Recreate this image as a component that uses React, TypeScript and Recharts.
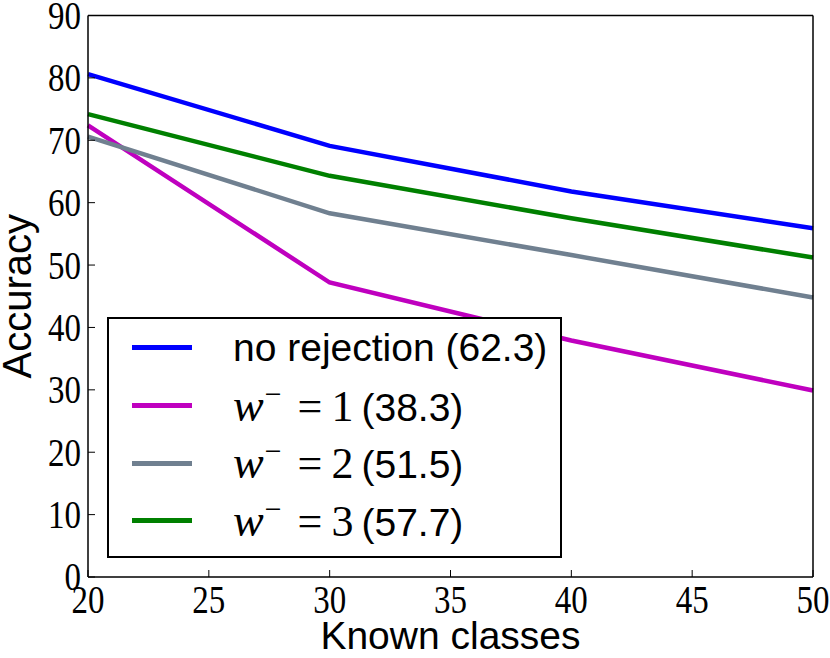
import React from 'react';
import { LineChart, Line, XAxis, YAxis, Legend } from 'recharts';

const knownClasses = [20, 30, 40, 50];
const noRejection = [80.6, 69.1, 61.8, 55.9];
const wMinus1 = [72.4, 47.2, 37.9, 29.9];
const wMinus2 = [70.6, 58.3, 51.6, 44.8];
const wMinus3 = [74.2, 64.3, 57.5, 51.2];

const xTicks = [20, 25, 30, 35, 40, 45, 50];
const yTicks = [0, 10, 20, 30, 40, 50, 60, 70, 80, 90];

const seriesKeys = ['noRej', 'w1', 'w2', 'w3'];
const seriesColors = ['#0000ff', '#bf00bf', '#708090', '#008000'];
const seriesMath = [null, '1', '2', '3'];
const seriesScores = ['62.3', '38.3', '51.5', '57.7'];

const data = knownClasses.map((k, i) => ({
  k,
  noRej: noRejection[i],
  w1: wMinus1[i],
  w2: wMinus2[i],
  w3: wMinus3[i],
}));

const SANS = '"Liberation Sans", Arial, Helvetica, sans-serif';
const SERIF = '"Liberation Serif", "DejaVu Serif", serif';

const XTick = (props: any) => {
  const { x, y, payload } = props;
  return (
    <text
      x={0}
      y={0}
      transform={`translate(${x}, ${y}) scale(1, 1.2)`}
      textAnchor="middle"
      fontFamily={SERIF}
      fontSize={33}
      fill="#000"
      dy="0.70em"
    >
      {payload.value}
    </text>
  );
};

const YTick = (props: any) => {
  const { x, y, payload } = props;
  return (
    <text
      x={0}
      y={0}
      transform={`translate(${x}, ${y}) scale(1, 1.2)`}
      textAnchor="end"
      fontFamily={SERIF}
      fontSize={33}
      fill="#000"
      dy="0.34em"
    >
      {payload.value}
    </text>
  );
};

const LegendBox = () => (
  <div
    style={{
      boxSizing: 'border-box',
      width: 455,
      height: 241,
      border: '2px solid #000',
      background: '#fff',
    }}
  >
    {seriesKeys.map((key, i) => (
      <div key={key} style={{ height: 57.7, position: 'relative' }}>
        <div
          style={{
            position: 'absolute',
            left: 23,
            width: 60,
            height: 5,
            background: seriesColors[i],
            top: 26.3,
          }}
        />
        <div
          style={{
            position: 'absolute',
            left: 124,
            top: 0,
            height: 57.7,
            display: 'flex',
            alignItems: 'center',
            fontFamily: SANS,
            fontSize: 39,
            lineHeight: 1,
            whiteSpace: 'nowrap',
            color: '#000',
          }}
        >
          {seriesMath[i] === null ? (
            <span>no rejection ({seriesScores[i]})</span>
          ) : (
            <span style={{ display: 'flex', alignItems: 'baseline' }}>
              <span style={{ fontFamily: SERIF, fontStyle: 'italic', fontSize: 46 }}>w</span>
              <span
                style={{
                  fontFamily: SERIF,
                  fontSize: 30,
                  position: 'relative',
                  top: -17,
                  marginLeft: 1,
                }}
              >
                −
              </span>
              <span style={{ fontFamily: SERIF, fontSize: 44, marginLeft: 16 }}>=</span>
              <span style={{ fontFamily: SERIF, fontSize: 44, marginLeft: 9 }}>{seriesMath[i]}</span>
              <span style={{ marginLeft: 8 }}>({seriesScores[i]})</span>
            </span>
          )}
        </div>
      </div>
    ))}
  </div>
);

const YLabel = (props: any) => {
  const { viewBox } = props;
  const cy = viewBox.y + viewBox.height / 2;
  const cx = 31;
  return (
    <text
      x={cx}
      y={cy}
      transform={`rotate(-90, ${cx}, ${cy})`}
      textAnchor="middle"
      fontFamily={SANS}
      fontSize={40}
      fill="#000"
    >
      Accuracy
    </text>
  );
};

const XLabel = (props: any) => {
  const { viewBox } = props;
  const cx = viewBox.x + viewBox.width / 2;
  return (
    <text x={cx} y={649} textAnchor="middle" fontFamily={SANS} fontSize={39} fill="#000">
      Known classes
    </text>
  );
};

export default function App() {
  const axisLine = { stroke: '#000', strokeWidth: 1.5 };
  const tickLine = { stroke: '#000', strokeWidth: 1 };
  return (
    <div style={{ position: 'absolute', left: 0, top: 0, width: 830, height: 658, background: '#fff' }}>
      <LineChart width={830} height={658} data={data} margin={{ top: 0, right: 0, bottom: 0, left: 0 }}>
        <XAxis
          xAxisId="bottom"
          dataKey="k"
          type="number"
          domain={[20, 50]}
          ticks={xTicks}
          orientation="bottom"
          height={81}
          axisLine={axisLine}
          tickLine={tickLine}
          tickSize={-7}
          tickMargin={15}
          tick={<XTick />}
          interval={0}
          label={<XLabel />}
        />
        <XAxis
          xAxisId="top"
          dataKey="k"
          type="number"
          domain={[20, 50]}
          ticks={xTicks}
          orientation="top"
          height={15.5}
          axisLine={axisLine}
          tickLine={tickLine}
          tickSize={-7}
          tick={false}
          interval={0}
        />
        <YAxis
          yAxisId="left"
          type="number"
          domain={[0, 90]}
          ticks={yTicks}
          orientation="left"
          width={88}
          axisLine={axisLine}
          tickLine={tickLine}
          tickSize={-7}
          tickMargin={14}
          tick={<YTick />}
          interval={0}
          label={<YLabel />}
        />
        <YAxis
          yAxisId="right"
          type="number"
          domain={[0, 90]}
          ticks={yTicks}
          orientation="right"
          width={17}
          axisLine={axisLine}
          tickLine={tickLine}
          tickSize={-7}
          tick={false}
          interval={0}
        />
        {seriesKeys.map((key, i) => (
          <Line
            key={key}
            xAxisId="bottom"
            yAxisId="left"
            type="linear"
            dataKey={key}
            stroke={seriesColors[i]}
            strokeWidth={4.5}
            dot={false}
            activeDot={false}
            isAnimationActive={false}
          />
        ))}
        <Legend
          layout="vertical"
          align="center"
          verticalAlign="middle"
          content={<LegendBox />}
          wrapperStyle={{ left: 107, top: 317, width: 455, height: 241 }}
        />
      </LineChart>
    </div>
  );
}
